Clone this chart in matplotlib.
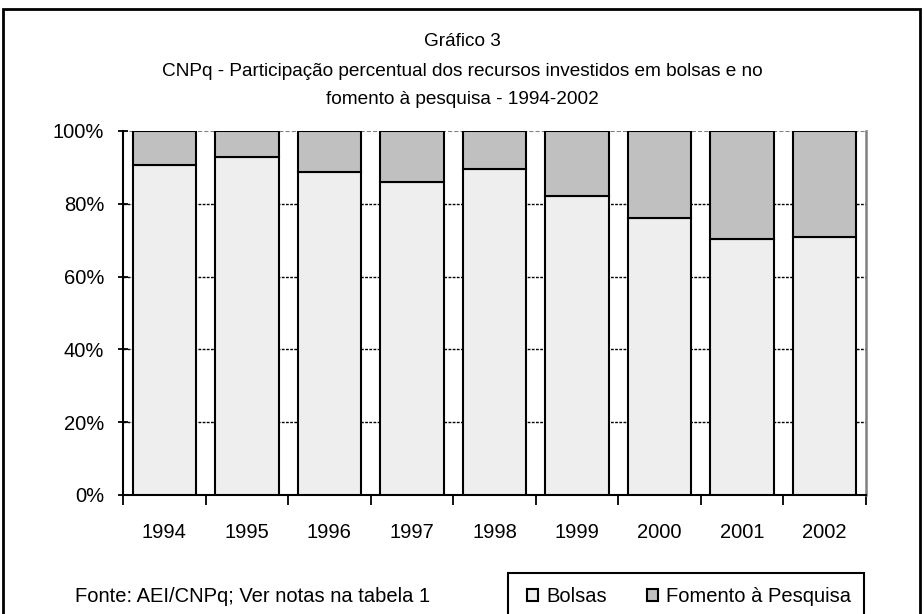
import matplotlib
matplotlib.use("Agg")
import matplotlib.pyplot as plt
import numpy as np
from matplotlib.patches import Rectangle, Patch

plt.rcParams['font.family'] = ['Liberation Sans', 'DejaVu Sans']

years = ['1994', '1995', '1996', '1997', '1998', '1999', '2000', '2001', '2002']
bolsas = [90.7, 92.8, 88.8, 86.1, 89.5, 82.2, 76.2, 70.2, 70.8]
fomento = [100 - b for b in bolsas]
yticks = [0, 20, 40, 60, 80, 100]
ytick_labels = ['0%', '20%', '40%', '60%', '80%', '100%']

fig = plt.figure(figsize=(9.24, 6.14), dpi=100)
ax = fig.add_axes([123/924, 1-495/614, (866-123)/924, (495-131)/614])

x = np.arange(len(years))
w = 1/1.3
ax.bar(x, bolsas, width=w, color='#EEEEEE', edgecolor='black', linewidth=1.5, label='Bolsas', zorder=3)
ax.bar(x, fomento, bottom=bolsas, width=w, color='#C0C0C0', edgecolor='black', linewidth=1.5,
       label='Fomento à Pesquisa', zorder=3)

ax.set_xlim(-0.5, len(years) - 0.5)
ax.set_ylim(0, 100)
ax.set_yticks(yticks)
ax.set_yticklabels(ytick_labels, fontsize=14.5)
ax.set_xticks(x)
ax.set_xticklabels(years, fontsize=14.5)
ax.tick_params(axis='x', length=0, pad=20)
ax.set_xticks(np.arange(-0.5, len(years), 1), minor=True)
ax.tick_params(axis='x', which='minor', length=7, direction='out', width=1.3)
ax.tick_params(axis='y', length=7, direction='inout', width=1.3, pad=10)

for yv in yticks[1:-1]:
    ax.axhline(yv, color='black', linestyle=(0, (2, 1)), linewidth=1.0, zorder=1)
ax.axhline(100, color='#808080', linestyle=(0, (2, 1)), linewidth=1.5, zorder=1)

ax.spines['top'].set_visible(False)
ax.spines['right'].set_color('#808080')
ax.spines['right'].set_linewidth(1.8)
ax.spines['left'].set_linewidth(1.5)
ax.spines['bottom'].set_linewidth(1.5)

fig.text(0.5, 1-42/614, 'Gráfico 3', ha='center', va='center', fontsize=13.7)
fig.text(0.5, 1-71/614, 'CNPq - Participação percentual dos recursos investidos em bolsas e no',
         ha='center', va='center', fontsize=13.7)
fig.text(0.5, 1-100/614, 'fomento à pesquisa - 1994-2002', ha='center', va='center', fontsize=13.7)

fig.text(75/924, 1-597/614, 'Fonte: AEI/CNPq; Ver notas na tabela 1', ha='left', va='center', fontsize=14.5)

# outer frame
fig.patches.append(Rectangle((3/924, -0.05), (920-3)/924, 1.05 - 9/614, transform=fig.transFigure,
                             fill=False, edgecolor='black', linewidth=2))

# legend box
fig.patches.append(Rectangle((508/924, -0.05), (864-508)/924, 0.05 + 1-573/614, transform=fig.transFigure,
                             fill=False, edgecolor='black', linewidth=1.5))
handles = [Patch(facecolor='#EEEEEE', edgecolor='black', linewidth=1.5, label='Bolsas'),
           Patch(facecolor='#C0C0C0', edgecolor='black', linewidth=1.5, label='Fomento à Pesquisa')]
fig.legend(handles=handles, loc='center', bbox_to_anchor=(689/924, 1-597/614), ncol=2, frameon=False,
           fontsize=14.5, handlelength=0.55, handleheight=0.55, handletextpad=0.4, columnspacing=2.0,
           borderpad=0)

fig.savefig('out.png', dpi=100)
